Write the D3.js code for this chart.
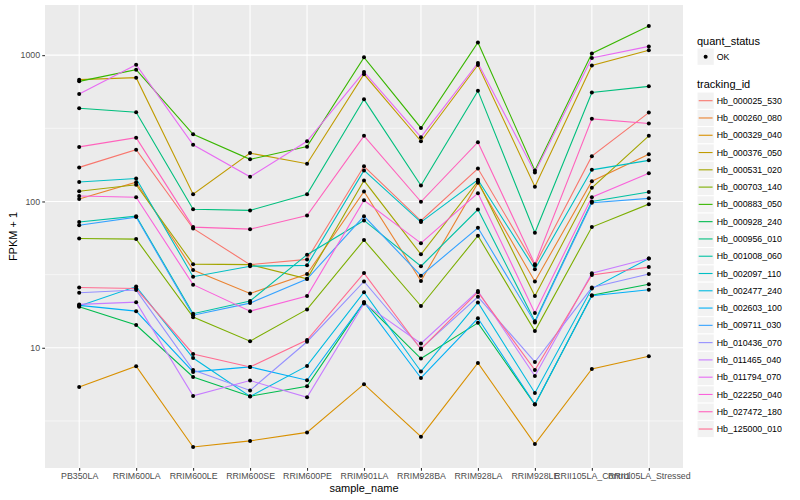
<!DOCTYPE html>
<html>
<head>
<meta charset="utf-8">
<script src="https://cdn.jsdelivr.net/npm/d3@7"></script>
<style>
  body { margin: 0; background: #fff; }
  svg { font-family: "Liberation Sans", Arial, Helvetica, sans-serif; }
</style>
</head>
<body>
<svg id="chart" width="800" height="500"></svg>
<script>
// samples on the x axis
var samples = ["PB350LA", "RRIM600LA", "RRIM600LE", "RRIM600SE", "RRIM600PE", "RRIM901LA",
               "RRIM928BA", "RRIM928LA", "RRIM928LE", "RRII105LA_Control", "RRII105LA_Stressed"];

// FPKM + 1 per gene, one value per sample
var hb_000025_530 = [171, 226, 65.4, 37.0, 40.2, 174, 73.8, 168, 36.6, 204, 405];
var hb_000260_080 = [104, 135.5, 34.0, 23.5, 31.9, 117, 28.6, 134, 28.4, 137.6, 210];
var hb_000329_040 = [5.40, 7.48, 2.10, 2.31, 2.64, 5.64, 2.47, 7.87, 2.20, 7.16, 8.75];
var hb_000376_050 = [680, 702, 112, 214, 181, 740, 258, 857, 126, 851, 1079];
var hb_000531_020 = [117.5, 130, 37.3, 37.0, 29.6, 139, 43.5, 137.6, 22.6, 124, 281];
var hb_000703_140 = [55.9, 55.3, 16.2, 11.1, 18.3, 54.5, 19.3, 58.3, 13.0, 66.8, 95.9];
var hb_000883_050 = [662, 796, 288, 194, 237, 966, 318, 1222, 163, 1028, 1581];
var hb_000928_240 = [19.1, 14.3, 6.32, 4.67, 5.46, 20.5, 8.44, 14.8, 4.09, 22.9, 27.2];
var hb_000956_010 = [434, 407, 88.5, 86.9, 112, 499, 128.5, 570, 61.1, 555, 612];
var hb_001008_060 = [72.4, 79.4, 17.1, 20.9, 43.3, 74.2, 36.1, 88.1, 15.2, 100, 116];
var hb_002097_110 = [136, 143.6, 30.6, 36.1, 36.6, 163, 72.3, 140.6, 34.4, 164.5, 191];
var hb_002477_240 = [19.3, 26.2, 8.51, 4.65, 7.52, 24.0, 6.89, 20.4, 4.91, 25.4, 40.8];
var hb_002603_100 = [19.5, 17.8, 6.84, 7.40, 6.0, 20.5, 6.22, 15.9, 4.11, 22.7, 24.9];
var hb_009711_030 = [68.8, 78.2, 16.7, 20.2, 29.5, 79.4, 31.1, 66.1, 14.9, 98, 105];
var hb_010436_070 = [23.8, 24.8, 7.05, 5.11, 11.0, 28.4, 9.88, 22.3, 8.0, 25.8, 31.9];
var hb_011465_040 = [19.8, 20.5, 4.69, 5.97, 4.59, 20.1, 10.7, 24.4, 6.42, 32.3, 40.8];
var hb_011794_070 = [543, 861, 244, 147.5, 258, 768, 275, 885, 158, 957, 1148];
var hb_022250_040 = [109, 107, 27.0, 17.8, 22.6, 102, 51.9, 114, 17.3, 107, 156];
var hb_027472_180 = [236, 273, 66.8, 64.7, 80.2, 281, 99.5, 254, 37.3, 367, 341];
var hb_125000_010 = [25.8, 25.4, 9.08, 7.40, 11.3, 32.4, 9.77, 24.0, 7.05, 31.4, 35.6];

var trackingIds = ["Hb_000025_530", "Hb_000260_080", "Hb_000329_040", "Hb_000376_050", "Hb_000531_020",
                   "Hb_000703_140", "Hb_000883_050", "Hb_000928_240", "Hb_000956_010", "Hb_001008_060",
                   "Hb_002097_110", "Hb_002477_240", "Hb_002603_100", "Hb_009711_030", "Hb_010436_070",
                   "Hb_011465_040", "Hb_011794_070", "Hb_022250_040", "Hb_027472_180", "Hb_125000_010"];
var seriesValues = [hb_000025_530, hb_000260_080, hb_000329_040, hb_000376_050, hb_000531_020,
                    hb_000703_140, hb_000883_050, hb_000928_240, hb_000956_010, hb_001008_060,
                    hb_002097_110, hb_002477_240, hb_002603_100, hb_009711_030, hb_010436_070,
                    hb_011465_040, hb_011794_070, hb_022250_040, hb_027472_180, hb_125000_010];
var yTicks = [10, 100, 1000];
var yMinor = [Math.sqrt(10), Math.sqrt(1000), Math.sqrt(100000)];

// ggplot hue palette for 20 levels
var palette = ["#F8766D", "#EA8331", "#D89000", "#C09B00", "#A3A500", "#7CAE00", "#39B600", "#00BB4E",
               "#00BF7D", "#00C1A3", "#00BFC4", "#00BAE0", "#00B0F6", "#35A2FF", "#9590FF", "#C77CFF",
               "#E76BF3", "#FA62DB", "#FF62BC", "#FF6C91"];

var series = trackingIds.map(function (id, i) {
  return { id: id, values: seriesValues[i].map(function (v, j) { return { sample: samples[j], v: v }; }) };
});

var panel = { left: 45, right: 683, top: 5, bottom: 468 };

var svg = d3.select("#chart");

var color = d3.scaleOrdinal().domain(trackingIds).range(palette);

var xScale = d3.scalePoint()
  .domain(samples)
  .range([panel.left, panel.right])
  .padding(0.6);

// log scale with ggplot-like 5% expansion
var all = d3.merge(seriesValues);
var lo = Math.log10(d3.min(all)), hi = Math.log10(d3.max(all));
var pad = (hi - lo) * 0.05;
var yScale = d3.scaleLog()
  .domain([Math.pow(10, lo - pad), Math.pow(10, hi + pad)])
  .range([panel.bottom, panel.top]);

// panel background
svg.append("rect")
  .attr("x", panel.left).attr("y", panel.top)
  .attr("width", panel.right - panel.left).attr("height", panel.bottom - panel.top)
  .attr("fill", "#EBEBEB");

// grid
svg.append("g").selectAll("line").data(yMinor).enter().append("line")
  .attr("x1", panel.left).attr("x2", panel.right)
  .attr("y1", function (d) { return yScale(d); }).attr("y2", function (d) { return yScale(d); })
  .attr("stroke", "#fff").attr("stroke-width", 0.55);

svg.append("g").selectAll("line").data(yTicks).enter().append("line")
  .attr("x1", panel.left).attr("x2", panel.right)
  .attr("y1", function (d) { return yScale(d); }).attr("y2", function (d) { return yScale(d); })
  .attr("stroke", "#fff").attr("stroke-width", 1.1);

svg.append("g").selectAll("line").data(samples).enter().append("line")
  .attr("x1", function (d) { return xScale(d); }).attr("x2", function (d) { return xScale(d); })
  .attr("y1", panel.top).attr("y2", panel.bottom)
  .attr("stroke", "#fff").attr("stroke-width", 1.1);

// lines
var line = d3.line()
  .x(function (d) { return xScale(d.sample); })
  .y(function (d) { return yScale(d.v); });

svg.append("g").selectAll("path").data(series).enter().append("path")
  .attr("d", function (d) { return line(d.values); })
  .attr("fill", "none")
  .attr("stroke", function (d) { return color(d.id); })
  .attr("stroke-width", 1.1);

// points
svg.append("g").selectAll("g").data(series).enter().append("g")
  .selectAll("circle").data(function (d) { return d.values; }).enter().append("circle")
  .attr("cx", function (d) { return xScale(d.sample); })
  .attr("cy", function (d) { return yScale(d.v); })
  .attr("r", 2)
  .attr("fill", "#000");

// axes
var yAxis = d3.axisLeft(yScale).tickValues(yTicks).tickFormat(d3.format("d")).tickSize(2.75).tickPadding(2.2);
var gy = svg.append("g").attr("transform", "translate(" + panel.left + ",0)").call(yAxis);
var xAxis = d3.axisBottom(xScale).tickSize(2.75).tickPadding(2.2);
var gx = svg.append("g").attr("transform", "translate(0," + panel.bottom + ")").call(xAxis);

[gx, gy].forEach(function (g) {
  g.select(".domain").remove();
  g.selectAll(".tick line").attr("stroke", "#333333").attr("stroke-width", 1.1);
  g.selectAll(".tick text").attr("fill", "#4D4D4D").style("font-size", "8.8px")
    .style("font-family", "\"Liberation Sans\", Arial, sans-serif");
});

svg.append("text")
  .attr("x", (panel.left + panel.right) / 2).attr("y", 492)
  .attr("text-anchor", "middle").style("font-size", "11px").attr("fill", "#000")
  .text("sample_name");

svg.append("text")
  .attr("transform", "translate(16.5," + (panel.top + panel.bottom) / 2 + ")rotate(-90)")
  .attr("text-anchor", "middle").style("font-size", "11px").attr("fill", "#000")
  .text("FPKM + 1");

// legends
var legX = 697, keySize = 17.28;
var leg = svg.append("g");

leg.append("text").attr("x", legX).attr("y", 44.5).style("font-size", "11px").text("quant_status");
leg.append("rect").attr("x", legX).attr("y", 56.7 - keySize / 2).attr("width", keySize).attr("height", keySize)
  .attr("fill", "#F2F2F2").attr("stroke", "#fff").attr("stroke-width", 1);
leg.append("circle").attr("cx", legX + keySize / 2).attr("cy", 56.7).attr("r", 2).attr("fill", "#000");
leg.append("text").attr("x", legX + keySize + 2.5).attr("y", 56.7 + 3.1).style("font-size", "8.8px").text("OK");

leg.append("text").attr("x", legX).attr("y", 88.3).style("font-size", "11px").text("tracking_id");

var keys = leg.selectAll("g.key").data(trackingIds).enter().append("g")
  .attr("class", "key")
  .attr("transform", function (d, i) { return "translate(" + legX + "," + (100.7 + i * keySize) + ")"; });

keys.append("rect").attr("x", 0).attr("y", -keySize / 2).attr("width", keySize).attr("height", keySize)
  .attr("fill", "#F2F2F2").attr("stroke", "#fff").attr("stroke-width", 1);
keys.append("line").attr("x1", 1.7).attr("x2", keySize - 1.7).attr("y1", 0).attr("y2", 0)
  .attr("stroke", function (d) { return color(d); }).attr("stroke-width", 1.1);
keys.append("text").attr("x", keySize + 2.5).attr("y", 3.1).style("font-size", "8.8px")
  .text(function (d) { return d; });
</script>
</body>
</html>
